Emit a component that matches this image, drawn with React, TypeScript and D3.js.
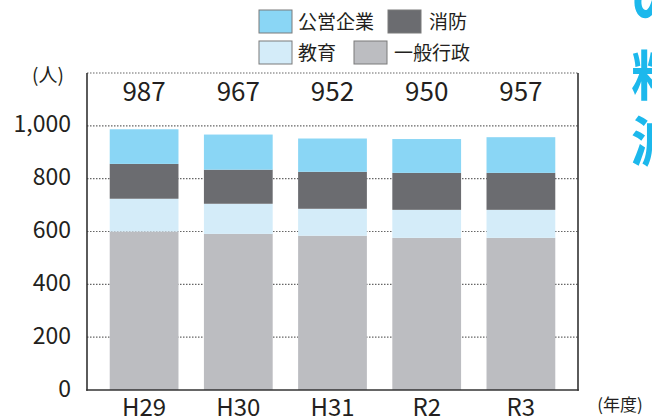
import React from "react";
import * as d3 from "d3";

const categories = ["H29", "H30", "H31", "R2", "R3"];
const ippan = [600, 591, 584, 576, 576];
const kyoiku = [124, 114, 102, 106, 106];
const shobo = [132, 129, 140, 140, 140];
const koei = [131, 133, 126, 128, 135];
const totals = [987, 967, 952, 950, 957];
const yTicks = [0, 200, 400, 600, 800, 1000];
const seriesNames = ["一般行政", "教育", "消防", "公営企業"];
const seriesColors = ["#BCBDC1", "#D4ECF9", "#6B6C70", "#8AD6F5"];

const W = 652;
const H = 419;
const left = 87;
const right = 578;
const top = 73;
const bottom = 390;
const font = "'Noto Sans CJK JP', 'Noto Sans', sans-serif";

export default function App() {
  const x = d3.scaleBand<string>().domain(categories).range([97, 568]).paddingInner(0.27).paddingOuter(0.135);
  const y = d3.scaleLinear().domain([0, 1200]).range([bottom, top]);
  const table = categories.map((c, i) => ({ cat: c, 一般行政: ippan[i], 教育: kyoiku[i], 消防: shobo[i], 公営企業: koei[i] }));
  const stacked = d3.stack<any>().keys(seriesNames)(table);
  const gridVals = [200, 400, 600, 800, 1000, 1200];

  const legend = [
    { name: "公営企業", color: seriesColors[3], bx: 259, by: 10, tx: 298 },
    { name: "消防", color: seriesColors[2], bx: 388, by: 10, tx: 429 },
    { name: "教育", color: seriesColors[1], bx: 259, by: 41, tx: 298 },
    { name: "一般行政", color: seriesColors[0], bx: 354, by: 41, tx: 394 },
  ];

  return (
    <svg width={W} height={H} style={{ position: "absolute", left: 0, top: 0, background: "#fff" }} fontFamily={font}>
      {gridVals.map((v) => (
        <line key={v} x1={left} x2={right} y1={y(v)} y2={y(v)} stroke="#666" strokeWidth={1.2} strokeDasharray="1.5 1.5" />
      ))}
      {stacked.map((s, si) => (
        <g key={s.key} fill={seriesColors[si]}>
          {s.map((d, i) => (
            <rect key={i} x={x(categories[i])} width={x.bandwidth()} y={y(d[1])} height={y(d[0]) - y(d[1])} />
          ))}
        </g>
      ))}
      <line x1={left} x2={left} y1={top} y2={bottom + 0.75} stroke="#333" strokeWidth={1.6} />
      <line x1={right} x2={right} y1={top} y2={bottom + 0.75} stroke="#333" strokeWidth={1.6} />
      <line x1={left - 0.8} x2={right + 0.8} y1={bottom} y2={bottom} stroke="#333" strokeWidth={1.6} />
      {yTicks.map((v) => (
        <text key={v} x={71} y={y(v) + 6.5} textAnchor="end" fontSize={23} fill="#231f20">
          {d3.format(",")(v)}
        </text>
      ))}
      <text x={48} y={82} textAnchor="middle" fontSize={19} fill="#231f20">(人)</text>
      {categories.map((c, i) => (
        <text key={c} x={x(c)! + x.bandwidth() / 2} y={101} textAnchor="middle" fontSize={26} fill="#231f20">
          {totals[i]}
        </text>
      ))}
      {categories.map((c) => (
        <text key={c} x={x(c)! + x.bandwidth() / 2} y={416} textAnchor="middle" fontSize={24} fill="#231f20">
          {c}
        </text>
      ))}
      <text x={620} y={411} textAnchor="middle" fontSize={17} fill="#231f20">(年度)</text>
      {legend.map((l) => (
        <g key={l.name}>
          <rect x={l.bx} y={l.by} width={33} height={23} fill={l.color} stroke="#7a7a7a" strokeWidth={1} />
          <text x={l.tx} y={l.by + 18.5} fontSize={19} fill="#231f20">{l.name}</text>
        </g>
      ))}
      <g fill="#1CB8EC" fontSize={54} fontWeight={700}>
        <text x={631} y={20}>の</text>
        <text x={631} y={96}>料</text>
        <text x={631} y={162}>減</text>
      </g>
    </svg>
  );
}
